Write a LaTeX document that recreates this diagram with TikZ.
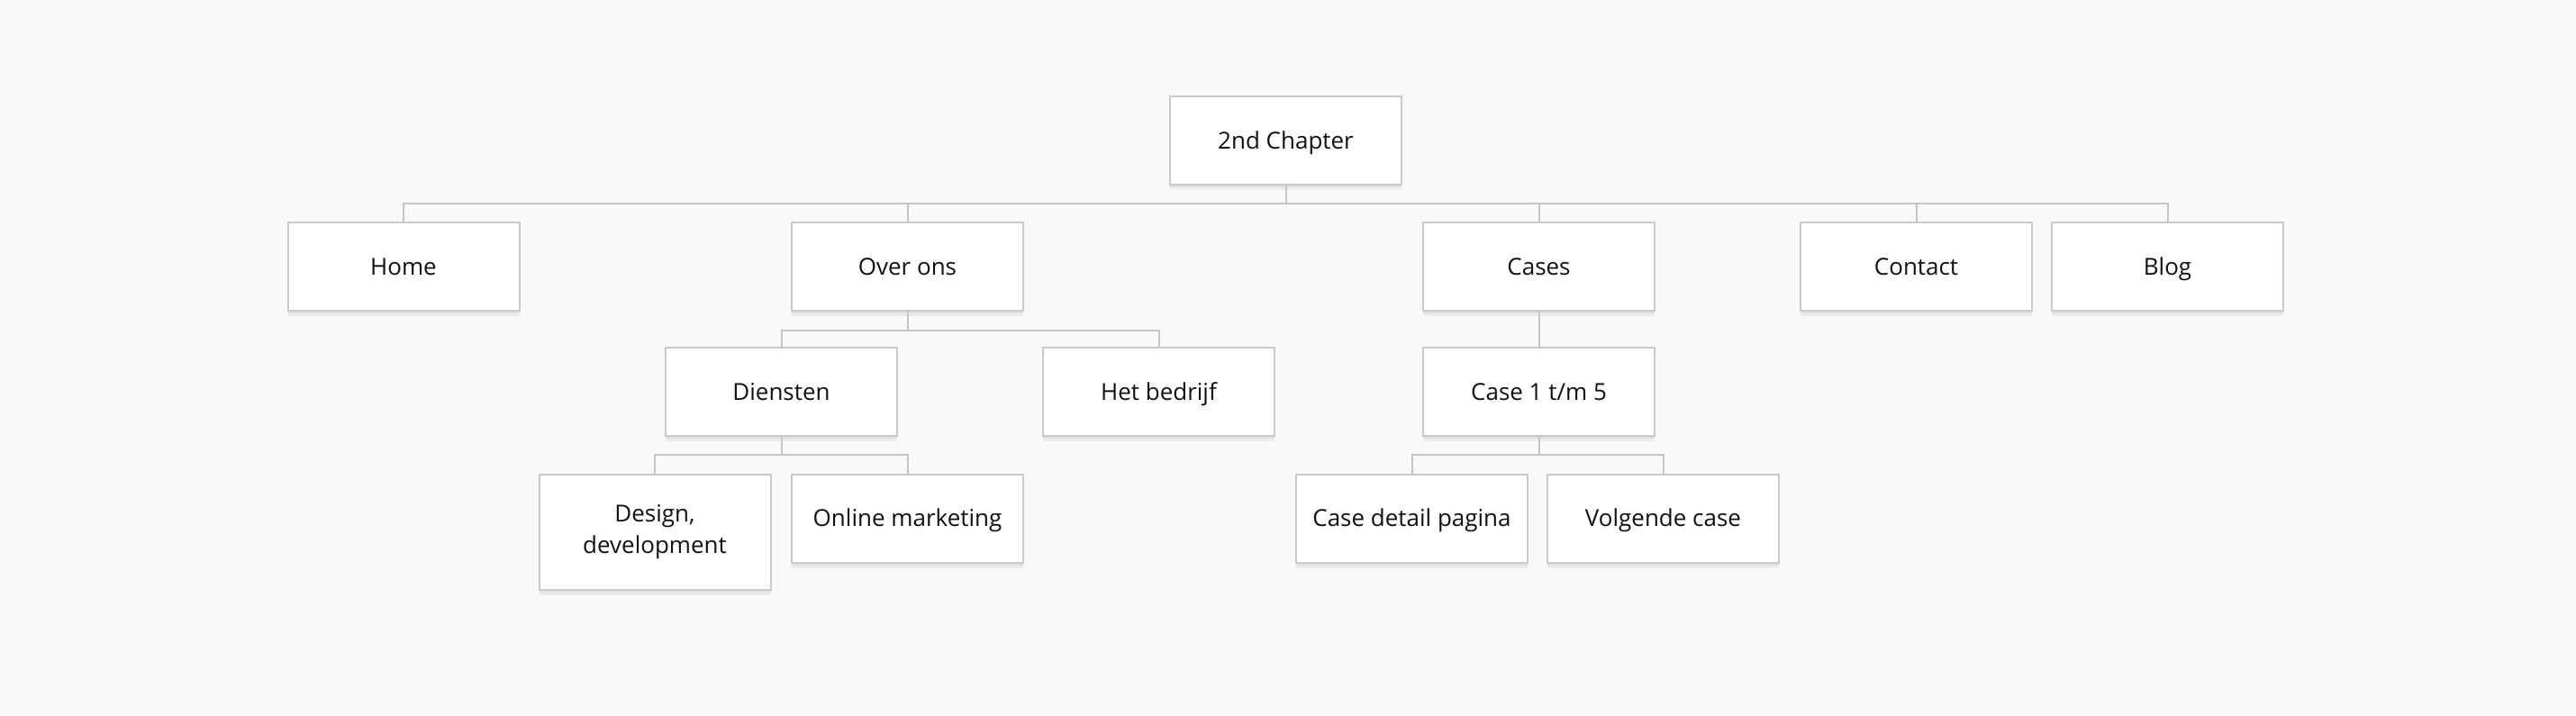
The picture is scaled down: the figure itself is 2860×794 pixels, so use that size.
\documentclass[tikz,border=0pt]{standalone}
\usepackage{fontspec}
\setmainfont{Open Sans}
\usetikzlibrary{shadows}
\definecolor{bg}{HTML}{F8F9FA}
\definecolor{boxline}{HTML}{CACACA}
\definecolor{conline}{HTML}{C6C6C6}
\definecolor{txt}{HTML}{111111}
\begin{document}
\begin{tikzpicture}[x=0.5pt,y=-0.5pt,
  pagebox/.style={draw=boxline, line width=1pt, fill=white, minimum width=128.5pt, minimum height=49pt,
    inner sep=0pt, align=center, text=txt, font=\fontsize{13}{17.5}\selectfont,
    text height=9.3pt, text depth=0pt,
    drop shadow={shadow xshift=0pt, shadow yshift=-3pt, opacity=0.05, fill=black, draw=none},
    drop shadow={shadow xshift=0pt, shadow yshift=-1.5pt, opacity=0.05, fill=black, draw=none}},
  conn/.style={draw=conline, line width=1pt}]
\fill[bg] (0,0) rectangle (2860,794);
\useasboundingbox (0,0) rectangle (2860,794);
% nodes
\node[pagebox] (top) at (1427.5,156) {2nd Chapter};
\node[pagebox] (home) at (448,296) {Home};
\node[pagebox] (over) at (1007.5,296) {Over ons};
\node[pagebox] (cases) at (1708.5,296) {Cases};
\node[pagebox] (contact) at (2127.5,296) {Contact};
\node[pagebox] (blog) at (2406.5,296) {Blog};
\node[pagebox] (diensten) at (867.5,435) {Diensten};
\node[pagebox] (bedrijf) at (1286.5,435) {Het bedrijf};
\node[pagebox] (case15) at (1708.5,435) {Case 1 t/m 5};
\node[pagebox, minimum height=64pt, text height=, text depth=] (design) at (727,591) {Design,\\development};
\node[pagebox] (online) at (1007.5,575.5) {Online marketing};
\node[pagebox] (detail) at (1567.5,575.5) {Case detail pagina};
\node[pagebox] (volgende) at (1846.5,575.5) {Volgende case};
% bus coordinates
\coordinate (b1) at (1427.5,226);
\coordinate (b2) at (1007.5,367);
\coordinate (b3) at (867.5,505);
\coordinate (b4) at (1708.5,505);
% connectors
\draw[conn] (top.south) -- (top.south |- b1);
\draw[conn] (home.north) -- (home.north |- b1) -- (blog.north |- b1) -- (blog.north);
\draw[conn] (over.north) -- (over.north |- b1);
\draw[conn] (cases.north) -- (cases.north |- b1);
\draw[conn] (contact.north) -- (contact.north |- b1);
\draw[conn] (over.south) -- (over.south |- b2);
\draw[conn] (diensten.north) -- (diensten.north |- b2) -- (bedrijf.north |- b2) -- (bedrijf.north);
\draw[conn] (cases.south) -- (case15.north);
\draw[conn] (diensten.south) -- (diensten.south |- b3);
\draw[conn] (design.north) -- (design.north |- b3) -- (online.north |- b3) -- (online.north);
\draw[conn] (case15.south) -- (case15.south |- b4);
\draw[conn] (detail.north) -- (detail.north |- b4) -- (volgende.north |- b4) -- (volgende.north);
\end{tikzpicture}
\end{document}
